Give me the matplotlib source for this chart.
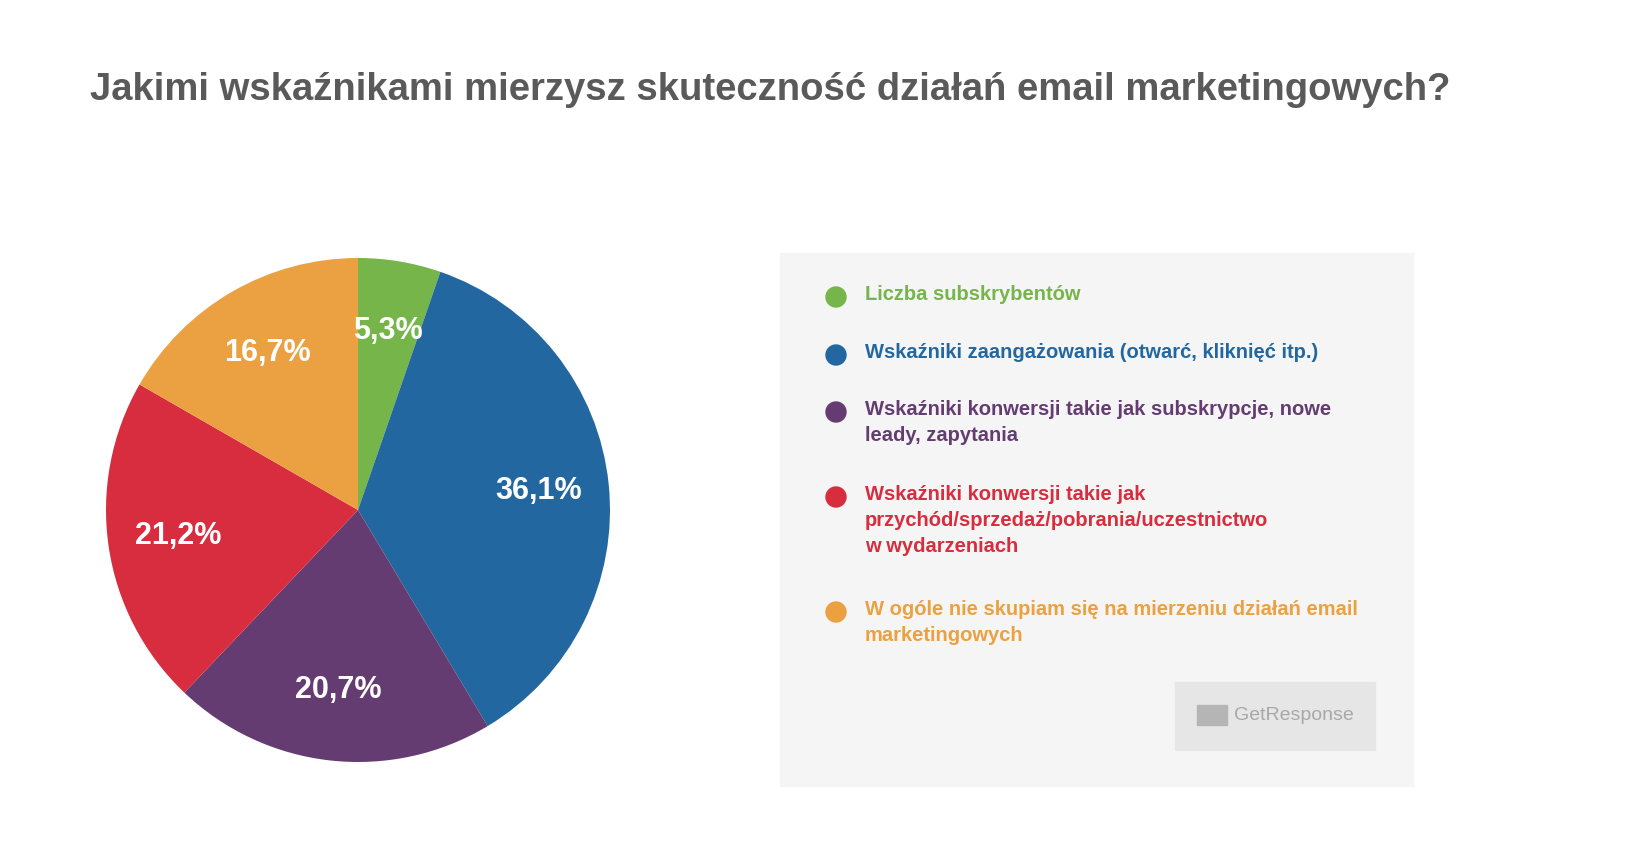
import matplotlib
matplotlib.use("Agg")
from matplotlib import pyplot as plt
from matplotlib.patches import Rectangle, Circle
import numpy as np

W, H = 1648, 866

labels = [
    "Liczba subskrybentów",
    "Wskaźniki zaangażowania (otwarć, kliknięć itp.)",
    "Wskaźniki konwersji takie jak subskrypcje, nowe\nleady, zapytania",
    "Wskaźniki konwersji takie jak\nprzychód/sprzedaż/pobrania/uczestnictwo\nw wydarzeniach",
    "W ogóle nie skupiam się na mierzeniu działań email\nmarketingowych",
]
values = [5.3, 36.1, 20.7, 21.2, 16.7]
colors = ["#76b54a", "#2367a0", "#643c72", "#d72d3e", "#eba142"]
legend_y = [297, 355, 412, 497, 612]

plt.rcParams["font.family"] = ["Liberation Sans Narrow", "Liberation Sans", "DejaVu Sans"]

fig = plt.figure(figsize=(W / 100, H / 100), dpi=100)
fig.patch.set_facecolor("white")

fig.text(90 / W, 1 - 90 / H, "Jakimi wskaźnikami mierzysz skuteczność działań email marketingowych?",
         fontsize=27.5, fontweight="bold", color="#5a5a5a", va="center", ha="left")

# pie
cx, cy, r = 358, 510, 252
ax = fig.add_axes([(cx - r) / W, 1 - (cy + r) / H, 2 * r / W, 2 * r / H])
wedges, texts = ax.pie(values, colors=colors, startangle=90, counterclock=False,
                       wedgeprops=dict(linewidth=0))
ang = 90.0
for w, v in zip(wedges, values):
    mid = np.deg2rad(ang - v * 3.6 / 2)
    ang -= v * 3.6
    ax.text(0.72 * np.cos(mid), 0.72 * np.sin(mid), ("%.1f%%" % v).replace(".", ","),
            ha="center", va="center", color="white", fontsize=22, fontweight="bold")
ax.set_xlim(-1, 1)
ax.set_ylim(-1, 1)
ax.set_aspect("auto")
ax.axis("off")

# legend panel
bg = fig.add_axes([0, 0, 1, 1], zorder=-1)
bg.set_xlim(0, W)
bg.set_ylim(H, 0)
bg.axis("off")
bg.add_patch(Rectangle((780, 253), 633, 533, color="#f5f5f5"))
for lab, col, y in zip(labels, colors, legend_y):
    bg.add_patch(Circle((836, y), 10, color=col))
    bg.text(865, y - 12, lab, color=col, fontsize=14.5, fontweight="bold",
            va="top", ha="left", linespacing=1.45)

# logo box
bg.add_patch(Rectangle((1175, 682), 200, 68, color="#e6e6e6"))
bg.add_patch(Rectangle((1197, 705), 30, 20, color="#b5b5b5"))
bg.text(1234, 716, "GetResponse", color="#a8a8a8", fontsize=14, va="center", ha="left",
        fontfamily="Liberation Sans")

fig.savefig("out.png", dpi=100, facecolor="white")
